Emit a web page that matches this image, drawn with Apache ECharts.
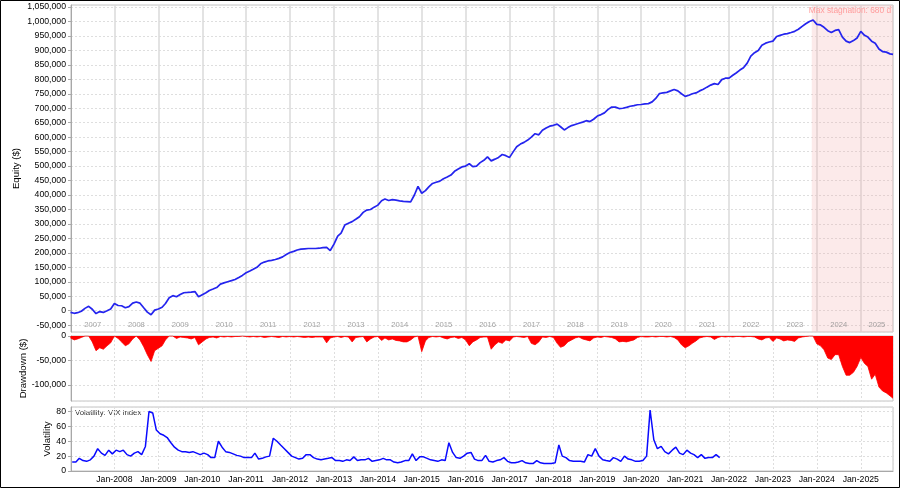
<!DOCTYPE html>
<html><head><meta charset="utf-8">
<script src="https://cdn.jsdelivr.net/npm/echarts@6/dist/echarts.min.js"></script>
<style>html,body{margin:0;padding:0;background:#fff}#c{width:900px;height:488px}</style>
</head><body><div id="c"></div>
<script>
// ---------------- DATA ----------------
// Monthly samples (start of month), Jan 2007 .. Sep 2025, plus last day value. Units: thousands of $
const equityStartYear = 2007;
const lastDate = '2025-09-26';
const equityK = [
 -6, -9, -7, -2, 8, 15, 5, -10, -3, -6, 0, 6,
 25, 18, 17, 10, 14, 26, 30, 26, 10, -5, -14, 2,
 6, 12, 25, 45, 52, 48, 56, 62, 63, 64, 66, 48,
 55, 62, 70, 75, 80, 92, 96, 100, 104, 108, 115, 122,
 131, 137, 143, 150, 162, 168, 172, 174, 177, 181, 186, 194,
 201, 205, 210, 213, 214, 215, 215, 215, 216, 218, 219, 208,
 230, 258, 268, 296, 302, 308, 316, 325, 340, 348, 350, 358,
 365, 380, 386, 381, 384, 382, 380, 378, 377, 376, 400, 430,
 406, 415, 428, 440, 444, 448, 456, 462, 469, 482, 490, 497,
 500, 508, 498, 500, 512, 520, 532, 518, 524, 530, 540, 536,
 530, 550, 567, 576, 582, 590, 600, 612, 608, 624, 632, 638,
 641, 645, 636, 625, 633, 640, 644, 648, 652, 657, 654, 662,
 673, 678, 684, 696, 704, 704, 699, 700, 703, 707, 709, 712,
 713, 715, 716, 722, 734, 751, 753, 755, 760, 765, 760, 750,
 741, 745, 750, 753, 760, 766, 773, 780, 785, 782, 799, 804,
 804, 814, 822, 832, 840, 856, 880, 892, 900, 918, 925, 929,
 932, 948, 952, 956, 958, 962, 966, 973, 983, 992, 1000, 1005,
 990, 988, 980, 968, 962, 969, 972, 946, 932, 927, 934, 943,
 966, 952, 946, 932, 925, 905, 896, 894, 888,
 886
];
const drawdownK = [
 -4, -8, -6, -3, 0, 0, -12, -30, -24, -27, -20, -14,
 0, -5, -12, -20, -16, -6, 0, -8, -22, -38, -52, -30,
 -25, -20, -8, 0, 0, -5, -2, -3, -4, -6, -3, -18,
 -12, -6, -3, -2, -4, -1, -2, -1, -2, -1, -1, 0,
 -1, -2, -1, -2, -1, -3, -2, -1, -2, -3, -1, -2,
 -1, -2, -1, -2, -3, -2, -3, -2, -2, -2, -14, -4,
 -2, -1, -3, -1, -2, -12, -3, -2, -1, -12, -6, -2,
 -1, -9, -4, -8, -6, -9, -10, -12, -12, -8, -2, 0,
 -32, -10, -3, -1, -2, -1, -4, -6, -3, -2, -5, -3,
 -8, -20, -12, -8, -3, -2, -2, -27, -18, -12, -15, -8,
 -10, -2, -1, -2, -3, -1, -15, -18, -12, -2, -3, -1,
 -3, -15, -23, -20, -12, -8, -4, -2, -6, -8, -10, -4,
 -2, -3, -1, -2, -3, -6, -12, -11, -12, -10, -8, -3,
 -1, -2, -2, -1, -2, -1, -1, -2, -1, -3, -8, -18,
 -24, -20, -15, -10, -4, -2, -1, -2, -7, -3, -1, -2,
 -1, -2, -1, -1, -2, -1, -1, -2, -6, -8, -4, -3,
 -11, -4, -6, -10, -8, -9, -11, -4, -2, -1, 0, 0,
 -16, -20, -28, -45, -48, -38, -38, -62, -80, -80, -74, -62,
 -44, -56, -62, -88, -78, -104, -112, -116, -122,
 -127
];
// VIX index, mid-month, Jan 2007 .. Oct 2021
const vixStartYear = 2007;
const vix = [
 12, 12, 17, 14, 13, 15, 20, 30, 24, 21, 28, 23,
 28, 26, 28, 22, 20, 24, 26, 22, 33, 80, 78, 55,
 50, 48, 45, 38, 32, 28, 26, 26, 25, 26, 24, 22,
 24, 22, 18, 18, 40, 32, 26, 25, 23, 21, 20, 18,
 18, 18, 24, 16, 17, 19, 20, 44, 40, 35, 30, 25,
 20, 18, 16, 17, 22, 22, 18, 16, 15, 16, 17, 18,
 14, 14, 13, 15, 14, 19, 14, 15, 15, 17, 13, 14,
 15, 17, 15, 15, 12, 11, 12, 14, 14, 23, 14, 19,
 19, 17, 15, 14, 13, 15, 14, 38, 25, 18, 17, 20,
 24, 25, 16, 14, 14, 21, 13, 12, 14, 15, 18, 13,
 11, 11, 12, 14, 11, 10, 10, 14, 11, 10, 10, 10,
 11, 35, 20, 18, 14, 13, 13, 13, 12, 22, 20, 30,
 20, 15, 14, 13, 18, 16, 13, 20, 16, 15, 13, 13,
 14, 20, 82, 42, 30, 33, 26, 23, 28, 32, 24, 22,
 28, 24, 22, 18, 22, 17, 18, 18, 22, 18
];
const yearLabels = ['2007','2008','2009','2010','2011','2012','2013','2014','2015','2016','2017','2018','2019','2020','2021','2022','2023','2024','2025'];
const stagnationStart = '2023-11-20';
const stagnationEnd = '2025-09-26';
const stagnationText = 'Max stagnation: 680 days';
const axisMinDate = '2007-01-05';
const axisMaxDate = '2025-09-26';

// ---------------- BUILD ----------------
const UNIT = 1000;
function monthDates(startY, count, day) {
  const out = [];
  for (let i = 0; i < count; i++) out.push(Date.UTC(startY + Math.floor(i / 12), i % 12, day));
  return out;
}
const tMin = Date.parse(axisMinDate + 'T00:00:00Z');
const tMax = Date.parse(axisMaxDate + 'T00:00:00Z');
const eqDates = monthDates(equityStartYear, equityK.length - 1, 1).concat([Date.parse(lastDate + 'T00:00:00Z')]);
const equityData = equityK.map((v, i) => [eqDates[i], v * UNIT]);
const ddData = drawdownK.map((v, i) => [eqDates[i], v * UNIT]);
const vixDates = monthDates(vixStartYear, vix.length, 15);
const vixData = vix.map((v, i) => [vixDates[i], v]);
const yearLabelData = yearLabels.map(y => {
  const a = Math.max(Date.UTC(+y, 0, 1), tMin), b = Math.min(Date.UTC(+y + 1, 0, 1), tMax);
  return { value: [(a + b) / 2, -50000], name: y };
});

const FONT = 'Liberation Sans';
const YEAR = 365 * 86400000;
const fmt = v => Math.round(v).toLocaleString('en-US');
const axisGray = '#a8a8a8';
const gridDash = { color: '#dedede', type: [2, 2], width: 1 };

const chart = echarts.init(document.getElementById('c'), null, { renderer: 'canvas' });
const xAxes = [0, 1, 2].map(i => ({
  type: 'time', gridIndex: i, min: tMin, max: tMax,
  minInterval: YEAR, maxInterval: YEAR + 86400000 * 2,
  axisLine: { show: i === 2, lineStyle: { color: axisGray } },
  axisTick: { show: false },
  axisLabel: {
    show: i === 2, fontSize: 8.7, color: '#000', fontFamily: FONT, margin: 4,
    showMinLabel: false, showMaxLabel: false,
    formatter: v => 'Jan-' + new Date(v).getUTCFullYear()
  },
  splitLine: { show: true, lineStyle: i === 0 ? { color: '#dadada', width: 1.5 } : gridDash }
}));
const yCommon = (extra) => Object.assign({
  type: 'value', nameLocation: 'middle', nameMoveOverlap: false,
  nameTextStyle: { fontSize: 9.6, color: '#000', fontFamily: FONT },
  axisLine: { show: true, lineStyle: { color: axisGray } },
  axisTick: { show: true, length: 3, lineStyle: { color: axisGray } },
  axisLabel: { fontSize: 8.7, color: '#000', fontFamily: FONT, margin: 5, showMinLabel: false, showMaxLabel: false, formatter: fmt },
  splitLine: { show: true, lineStyle: gridDash }
}, extra);

const option = {
  animation: false,
  useUTC: true,
  backgroundColor: '#ffffff',
  textStyle: { fontFamily: FONT },
  grid: [
    { left: 71, right: 7, top: 5, height: 327, show: true, borderColor: '#c4c4c4', borderWidth: 1 },
    { left: 71, right: 7, top: 336, height: 65, show: true, borderColor: '#c4c4c4', borderWidth: 1 },
    { left: 71, right: 7, top: 407, height: 64, show: true, borderColor: '#c4c4c4', borderWidth: 1 }
  ],
  xAxis: xAxes,
  yAxis: [
    yCommon({ gridIndex: 0, min: -73700, max: 1057000, splitNumber: 22, name: 'Equity ($)', nameGap: 50 }),
    yCommon({ gridIndex: 1, min: -132500, max: 0, splitNumber: 3, name: 'Drawdown ($)', nameGap: 43,
      axisLabel: { fontSize: 8.7, color: '#000', fontFamily: FONT, margin: 5, showMinLabel: false, showMaxLabel: true, formatter: fmt } }),
    yCommon({ gridIndex: 2, min: 0, max: 86, interval: 20, name: 'Volatility', nameGap: 19,
      axisLabel: { fontSize: 8.7, color: '#000', fontFamily: FONT, margin: 5, showMinLabel: true, showMaxLabel: false, formatter: fmt } })
  ],
  series: [
    {
      type: 'line', name: 'Equity', xAxisIndex: 0, yAxisIndex: 0, data: equityData,
      symbol: 'none', lineStyle: { color: '#2424ee', width: 1.7 }, z: 5,
      markArea: {
        silent: true,
        itemStyle: { color: 'rgba(245,170,170,0.25)' },
        label: { show: true, position: 'insideTopLeft', distance: 2, offset: [-5, 0],
          color: '#ff9c9c', fontSize: 8.4, fontFamily: FONT, width: 86, overflow: 'truncate', ellipsis: '' },
        data: [[{ xAxis: Date.parse(stagnationStart + 'T00:00:00Z'), name: stagnationText }, { xAxis: Date.parse(stagnationEnd + 'T00:00:00Z') }]]
      }
    },
    {
      type: 'scatter', xAxisIndex: 0, yAxisIndex: 0, data: yearLabelData, symbolSize: 0, silent: true,
      label: { show: true, position: 'inside', formatter: p => p.name, color: '#8c8c8c', fontSize: 7.6, fontFamily: FONT }
    },
    {
      type: 'line', name: 'Drawdown', xAxisIndex: 1, yAxisIndex: 1, data: ddData,
      symbol: 'none', lineStyle: { color: '#ff0000', width: 0.8 }, areaStyle: { color: '#ff0000', opacity: 1 }
    },
    {
      type: 'line', name: 'VIX', xAxisIndex: 2, yAxisIndex: 2, data: vixData,
      symbol: 'none', lineStyle: { color: '#0a0aff', width: 1.5 }
    }
  ],
  graphic: [
    { type: 'text', left: 75, top: 409, style: { text: 'Volatility: VIX index', fill: '#333', fontSize: 7.8, fontFamily: FONT } },
    { type: 'rect', shape: { x: 0.5, y: 0.5, width: 899, height: 487 }, style: { fill: 'none', stroke: '#000', lineWidth: 1 }, silent: true }
  ]
};
chart.setOption(option);
</script>
</body></html>
